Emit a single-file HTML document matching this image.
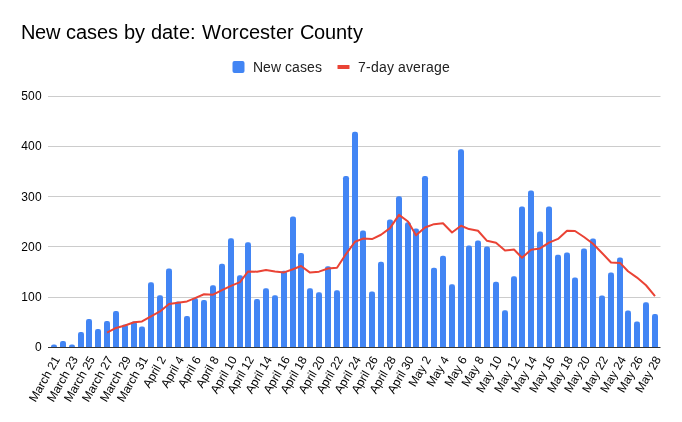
<!DOCTYPE html><html><head><meta charset="utf-8"><style>html,body{margin:0;padding:0;background:#fff;}body{width:682px;height:422px;overflow:hidden;position:relative;font-family:"Liberation Sans",sans-serif;}</style></head><body><svg width="682" height="422" viewBox="0 0 682 422" style="position:absolute;left:0;top:0;will-change:transform;font-family:'Liberation Sans',sans-serif">
<rect width="682" height="422" fill="#fff"/>
<rect x="48" y="297" width="612.5" height="1" fill="#cccccc"/>
<rect x="48" y="246" width="612.5" height="1" fill="#cccccc"/>
<rect x="48" y="196" width="612.5" height="1" fill="#cccccc"/>
<rect x="48" y="146" width="612.5" height="1" fill="#cccccc"/>
<rect x="48" y="96" width="612.5" height="1" fill="#cccccc"/>
<path d="M51 347.50 V346.70 Q51 344.50 53.2 344.50 H54.8 Q57 344.50 57 346.70 V347.50 Z" fill="#4285f4"/>
<path d="M60 347.50 V343.20 Q60 341.00 62.2 341.00 H63.8 Q66 341.00 66 343.20 V347.50 Z" fill="#4285f4"/>
<path d="M69 347.50 V346.70 Q69 344.50 71.2 344.50 H72.8 Q75 344.50 75 346.70 V347.50 Z" fill="#4285f4"/>
<path d="M78 347.50 V334.20 Q78 332.00 80.2 332.00 H81.8 Q84 332.00 84 334.20 V347.50 Z" fill="#4285f4"/>
<path d="M86 347.50 V321.20 Q86 319.00 88.2 319.00 H89.8 Q92 319.00 92 321.20 V347.50 Z" fill="#4285f4"/>
<path d="M95 347.50 V331.20 Q95 329.00 97.2 329.00 H98.8 Q101 329.00 101 331.20 V347.50 Z" fill="#4285f4"/>
<path d="M104 347.50 V323.20 Q104 321.00 106.2 321.00 H107.8 Q110 321.00 110 323.20 V347.50 Z" fill="#4285f4"/>
<path d="M113 347.50 V313.20 Q113 311.00 115.2 311.00 H116.8 Q119 311.00 119 313.20 V347.50 Z" fill="#4285f4"/>
<path d="M122 347.50 V326.70 Q122 324.50 124.2 324.50 H125.8 Q128 324.50 128 326.70 V347.50 Z" fill="#4285f4"/>
<path d="M131 347.50 V323.70 Q131 321.50 133.2 321.50 H134.8 Q137 321.50 137 323.70 V347.50 Z" fill="#4285f4"/>
<path d="M139 347.50 V328.70 Q139 326.50 141.2 326.50 H142.8 Q145 326.50 145 328.70 V347.50 Z" fill="#4285f4"/>
<path d="M148 347.50 V284.40 Q148 282.20 150.2 282.20 H151.8 Q154 282.20 154 284.40 V347.50 Z" fill="#4285f4"/>
<path d="M157 347.50 V297.40 Q157 295.20 159.2 295.20 H160.8 Q163 295.20 163 297.40 V347.50 Z" fill="#4285f4"/>
<path d="M166 347.50 V270.63 Q166 268.43 168.2 268.43 H169.8 Q172 268.43 172 270.63 V347.50 Z" fill="#4285f4"/>
<path d="M175 347.50 V303.70 Q175 301.50 177.2 301.50 H178.8 Q181 301.50 181 303.70 V347.50 Z" fill="#4285f4"/>
<path d="M184 347.50 V318.20 Q184 316.00 186.2 316.00 H187.8 Q190 316.00 190 318.20 V347.50 Z" fill="#4285f4"/>
<path d="M192 347.50 V300.20 Q192 298.00 194.2 298.00 H195.8 Q198 298.00 198 300.20 V347.50 Z" fill="#4285f4"/>
<path d="M201 347.50 V302.20 Q201 300.00 203.2 300.00 H204.8 Q207 300.00 207 302.20 V347.50 Z" fill="#4285f4"/>
<path d="M210 347.50 V287.46 Q210 285.26 212.2 285.26 H213.8 Q216 285.26 216 287.46 V347.50 Z" fill="#4285f4"/>
<path d="M219 347.50 V266.04 Q219 263.84 221.2 263.84 H222.8 Q225 263.84 225 266.04 V347.50 Z" fill="#4285f4"/>
<path d="M228 347.50 V240.45 Q228 238.25 230.2 238.25 H231.8 Q234 238.25 234 240.45 V347.50 Z" fill="#4285f4"/>
<path d="M237 347.50 V277.51 Q237 275.31 239.2 275.31 H240.8 Q243 275.31 243 277.51 V347.50 Z" fill="#4285f4"/>
<path d="M245 347.50 V244.45 Q245 242.25 247.2 242.25 H248.8 Q251 242.25 251 244.45 V347.50 Z" fill="#4285f4"/>
<path d="M254 347.50 V301.20 Q254 299.00 256.2 299.00 H257.8 Q260 299.00 260 301.20 V347.50 Z" fill="#4285f4"/>
<path d="M263 347.50 V290.52 Q263 288.32 265.2 288.32 H266.8 Q269 288.32 269 290.52 V347.50 Z" fill="#4285f4"/>
<path d="M272 347.50 V297.40 Q272 295.20 274.2 295.20 H275.8 Q278 295.20 278 297.40 V347.50 Z" fill="#4285f4"/>
<path d="M281 347.50 V272.93 Q281 270.73 283.2 270.73 H284.8 Q287 270.73 287 272.93 V347.50 Z" fill="#4285f4"/>
<path d="M290 347.50 V218.70 Q290 216.50 292.2 216.50 H293.8 Q296 216.50 296 218.70 V347.50 Z" fill="#4285f4"/>
<path d="M298 347.50 V255.07 Q298 252.88 300.2 252.88 H301.8 Q304 252.88 304 255.07 V347.50 Z" fill="#4285f4"/>
<path d="M307 347.50 V290.52 Q307 288.32 309.2 288.32 H310.8 Q313 288.32 313 290.52 V347.50 Z" fill="#4285f4"/>
<path d="M316 347.50 V294.50 Q316 292.30 318.2 292.30 H319.8 Q322 292.30 322 294.50 V347.50 Z" fill="#4285f4"/>
<path d="M325 347.50 V268.33 Q325 266.13 327.2 266.13 H328.8 Q331 266.13 331 268.33 V347.50 Z" fill="#4285f4"/>
<path d="M334 347.50 V292.46 Q334 290.26 336.2 290.26 H337.8 Q340 290.26 340 292.46 V347.50 Z" fill="#4285f4"/>
<path d="M343 347.50 V178.20 Q343 176.00 345.2 176.00 H346.8 Q349 176.00 349 178.20 V347.50 Z" fill="#4285f4"/>
<path d="M352 347.50 V133.95 Q352 131.75 354.2 131.75 H355.8 Q358 131.75 358 133.95 V347.50 Z" fill="#4285f4"/>
<path d="M360 347.50 V232.70 Q360 230.50 362.2 230.50 H363.8 Q366 230.50 366 232.70 V347.50 Z" fill="#4285f4"/>
<path d="M369 347.50 V293.58 Q369 291.38 371.2 291.38 H372.8 Q375 291.38 375 293.58 V347.50 Z" fill="#4285f4"/>
<path d="M378 347.50 V264.00 Q378 261.80 380.2 261.80 H381.8 Q384 261.80 384 264.00 V347.50 Z" fill="#4285f4"/>
<path d="M387 347.50 V221.70 Q387 219.50 389.2 219.50 H390.8 Q393 219.50 393 221.70 V347.50 Z" fill="#4285f4"/>
<path d="M396 347.50 V198.45 Q396 196.25 398.2 196.25 H399.8 Q402 196.25 402 198.45 V347.50 Z" fill="#4285f4"/>
<path d="M405 347.50 V224.45 Q405 222.25 407.2 222.25 H408.8 Q411 222.25 411 224.45 V347.50 Z" fill="#4285f4"/>
<path d="M413 347.50 V230.70 Q413 228.50 415.2 228.50 H416.8 Q419 228.50 419 230.70 V347.50 Z" fill="#4285f4"/>
<path d="M422 347.50 V178.20 Q422 176.00 424.2 176.00 H425.8 Q428 176.00 428 178.20 V347.50 Z" fill="#4285f4"/>
<path d="M431 347.50 V269.87 Q431 267.67 433.2 267.67 H434.8 Q437 267.67 437 269.87 V347.50 Z" fill="#4285f4"/>
<path d="M440 347.50 V257.88 Q440 255.68 442.2 255.68 H443.8 Q446 255.68 446 257.88 V347.50 Z" fill="#4285f4"/>
<path d="M449 347.50 V286.44 Q449 284.24 451.2 284.24 H452.8 Q455 284.24 455 286.44 V347.50 Z" fill="#4285f4"/>
<path d="M458 347.50 V151.45 Q458 149.25 460.2 149.25 H461.8 Q464 149.25 464 151.45 V347.50 Z" fill="#4285f4"/>
<path d="M466 347.50 V247.70 Q466 245.50 468.2 245.50 H469.8 Q472 245.50 472 247.70 V347.50 Z" fill="#4285f4"/>
<path d="M475 347.50 V242.70 Q475 240.50 477.2 240.50 H478.8 Q481 240.50 481 242.70 V347.50 Z" fill="#4285f4"/>
<path d="M484 347.50 V248.70 Q484 246.50 486.2 246.50 H487.8 Q490 246.50 490 248.70 V347.50 Z" fill="#4285f4"/>
<path d="M493 347.50 V283.89 Q493 281.69 495.2 281.69 H496.8 Q499 281.69 499 283.89 V347.50 Z" fill="#4285f4"/>
<path d="M502 347.50 V312.45 Q502 310.25 504.2 310.25 H505.8 Q508 310.25 508 312.45 V347.50 Z" fill="#4285f4"/>
<path d="M511 347.50 V278.53 Q511 276.33 513.2 276.33 H514.8 Q517 276.33 517 278.53 V347.50 Z" fill="#4285f4"/>
<path d="M519 347.50 V208.70 Q519 206.50 521.2 206.50 H522.8 Q525 206.50 525 208.70 V347.50 Z" fill="#4285f4"/>
<path d="M528 347.50 V192.70 Q528 190.50 530.2 190.50 H531.8 Q534 190.50 534 192.70 V347.50 Z" fill="#4285f4"/>
<path d="M537 347.50 V233.70 Q537 231.50 539.2 231.50 H540.8 Q543 231.50 543 233.70 V347.50 Z" fill="#4285f4"/>
<path d="M546 347.50 V208.70 Q546 206.50 548.2 206.50 H549.8 Q552 206.50 552 208.70 V347.50 Z" fill="#4285f4"/>
<path d="M555 347.50 V256.86 Q555 254.66 557.2 254.66 H558.8 Q561 254.66 561 256.86 V347.50 Z" fill="#4285f4"/>
<path d="M564 347.50 V254.67 Q564 252.47 566.2 252.47 H567.8 Q570 252.47 570 254.67 V347.50 Z" fill="#4285f4"/>
<path d="M572 347.50 V279.81 Q572 277.61 574.2 277.61 H575.8 Q578 277.61 578 279.81 V347.50 Z" fill="#4285f4"/>
<path d="M581 347.50 V250.74 Q581 248.54 583.2 248.54 H584.8 Q587 248.54 587 250.74 V347.50 Z" fill="#4285f4"/>
<path d="M590 347.50 V240.70 Q590 238.50 592.2 238.50 H593.8 Q596 238.50 596 240.70 V347.50 Z" fill="#4285f4"/>
<path d="M599 347.50 V297.66 Q599 295.46 601.2 295.46 H602.8 Q605 295.46 605 297.66 V347.50 Z" fill="#4285f4"/>
<path d="M608 347.50 V274.71 Q608 272.51 610.2 272.51 H611.8 Q614 272.51 614 274.71 V347.50 Z" fill="#4285f4"/>
<path d="M617 347.50 V259.66 Q617 257.46 619.2 257.46 H620.8 Q623 257.46 623 259.66 V347.50 Z" fill="#4285f4"/>
<path d="M625 347.50 V312.70 Q625 310.50 627.2 310.50 H628.8 Q631 310.50 631 312.70 V347.50 Z" fill="#4285f4"/>
<path d="M634 347.50 V323.70 Q634 321.50 636.2 321.50 H637.8 Q640 321.50 640 323.70 V347.50 Z" fill="#4285f4"/>
<path d="M643 347.50 V304.45 Q643 302.25 645.2 302.25 H646.8 Q649 302.25 649 304.45 V347.50 Z" fill="#4285f4"/>
<path d="M652 347.50 V316.20 Q652 314.00 654.2 314.00 H655.8 Q658 314.00 658 316.20 V347.50 Z" fill="#4285f4"/>
<rect x="48" y="347" width="612.5" height="1" fill="#333333"/>
<polyline points="107,332.70 116,327.91 125,325.56 134,322.27 142,321.49 151,316.27 160,311.45 169,304.02 178,302.66 187,301.45 195,298.09 204,294.25 213,294.69 222,290.21 231,285.87 240,282.12 248,271.52 257,271.66 266,269.99 275,271.41 284,272.39 293,269.22 301,266.02 310,272.61 319,271.65 328,268.48 337,267.77 346,254.04 355,241.78 363,238.60 372,239.03 381,234.76 390,228.15 399,214.84 408,221.45 416,235.27 425,227.49 434,224.16 443,223.31 452,232.45 461,225.74 469,229.06 478,230.77 487,240.84 496,242.81 505,250.57 514,249.44 522,257.78 531,249.77 540,248.46 549,242.70 558,238.91 567,230.79 575,230.96 584,236.96 593,243.82 602,252.95 611,262.50 620,262.90 628,271.23 637,277.56 646,285.25 655,296.11" fill="none" stroke="#ea4335" stroke-width="2" stroke-linejoin="round" stroke-linecap="butt"/>
<text x="41.75" y="350.90" text-anchor="end" letter-spacing="0.15" font-size="12" fill="#000">0</text>
<text x="41.75" y="300.90" text-anchor="end" letter-spacing="0.15" font-size="12" fill="#000">100</text>
<text x="41.75" y="250.90" text-anchor="end" letter-spacing="0.15" font-size="12" fill="#000">200</text>
<text x="41.75" y="200.90" text-anchor="end" letter-spacing="0.15" font-size="12" fill="#000">300</text>
<text x="41.75" y="149.90" text-anchor="end" letter-spacing="0.15" font-size="12" fill="#000">400</text>
<text x="41.75" y="99.90" text-anchor="end" letter-spacing="0.15" font-size="12" fill="#000">500</text>
<text transform="translate(60.4,359.3) rotate(-60)" text-anchor="end" font-size="12" fill="#000">March 21</text>
<text transform="translate(78.4,359.3) rotate(-60)" text-anchor="end" font-size="12" fill="#000">March 23</text>
<text transform="translate(95.4,359.3) rotate(-60)" text-anchor="end" font-size="12" fill="#000">March 25</text>
<text transform="translate(113.4,359.3) rotate(-60)" text-anchor="end" font-size="12" fill="#000">March 27</text>
<text transform="translate(131.4,359.3) rotate(-60)" text-anchor="end" font-size="12" fill="#000">March 29</text>
<text transform="translate(148.4,359.3) rotate(-60)" text-anchor="end" font-size="12" fill="#000">March 31</text>
<text transform="translate(166.4,359.3) rotate(-60)" text-anchor="end" font-size="12" fill="#000">April 2</text>
<text transform="translate(184.4,359.3) rotate(-60)" text-anchor="end" font-size="12" fill="#000">April 4</text>
<text transform="translate(201.4,359.3) rotate(-60)" text-anchor="end" font-size="12" fill="#000">April 6</text>
<text transform="translate(219.4,359.3) rotate(-60)" text-anchor="end" font-size="12" fill="#000">April 8</text>
<text transform="translate(237.4,359.3) rotate(-60)" text-anchor="end" font-size="12" fill="#000">April 10</text>
<text transform="translate(254.4,359.3) rotate(-60)" text-anchor="end" font-size="12" fill="#000">April 12</text>
<text transform="translate(272.4,359.3) rotate(-60)" text-anchor="end" font-size="12" fill="#000">April 14</text>
<text transform="translate(290.4,359.3) rotate(-60)" text-anchor="end" font-size="12" fill="#000">April 16</text>
<text transform="translate(307.4,359.3) rotate(-60)" text-anchor="end" font-size="12" fill="#000">April 18</text>
<text transform="translate(325.4,359.3) rotate(-60)" text-anchor="end" font-size="12" fill="#000">April 20</text>
<text transform="translate(343.4,359.3) rotate(-60)" text-anchor="end" font-size="12" fill="#000">April 22</text>
<text transform="translate(361.4,359.3) rotate(-60)" text-anchor="end" font-size="12" fill="#000">April 24</text>
<text transform="translate(378.4,359.3) rotate(-60)" text-anchor="end" font-size="12" fill="#000">April 26</text>
<text transform="translate(396.4,359.3) rotate(-60)" text-anchor="end" font-size="12" fill="#000">April 28</text>
<text transform="translate(414.4,359.3) rotate(-60)" text-anchor="end" font-size="12" fill="#000">April 30</text>
<text transform="translate(431.4,359.3) rotate(-60)" text-anchor="end" font-size="12" fill="#000">May 2</text>
<text transform="translate(449.4,359.3) rotate(-60)" text-anchor="end" font-size="12" fill="#000">May 4</text>
<text transform="translate(467.4,359.3) rotate(-60)" text-anchor="end" font-size="12" fill="#000">May 6</text>
<text transform="translate(484.4,359.3) rotate(-60)" text-anchor="end" font-size="12" fill="#000">May 8</text>
<text transform="translate(502.4,359.3) rotate(-60)" text-anchor="end" font-size="12" fill="#000">May 10</text>
<text transform="translate(520.4,359.3) rotate(-60)" text-anchor="end" font-size="12" fill="#000">May 12</text>
<text transform="translate(537.4,359.3) rotate(-60)" text-anchor="end" font-size="12" fill="#000">May 14</text>
<text transform="translate(555.4,359.3) rotate(-60)" text-anchor="end" font-size="12" fill="#000">May 16</text>
<text transform="translate(573.4,359.3) rotate(-60)" text-anchor="end" font-size="12" fill="#000">May 18</text>
<text transform="translate(590.4,359.3) rotate(-60)" text-anchor="end" font-size="12" fill="#000">May 20</text>
<text transform="translate(608.4,359.3) rotate(-60)" text-anchor="end" font-size="12" fill="#000">May 22</text>
<text transform="translate(626.4,359.3) rotate(-60)" text-anchor="end" font-size="12" fill="#000">May 24</text>
<text transform="translate(643.4,359.3) rotate(-60)" text-anchor="end" font-size="12" fill="#000">May 26</text>
<text transform="translate(661.4,359.3) rotate(-60)" text-anchor="end" font-size="12" fill="#000">May 28</text>
<text x="21.1 35.1 46.1 60.1 66.1 76.1 87.1 97.1 108.1 118.1 124.1 135.1 145.1 151.1 162.1 173.1 179.1 190.1 196.1 202.1 221.1 232.1 239.1 249.1 260.1 270.1 276.1 287.1 294.1 300.1 314.1 325.1 336.1 347.1 353.1" y="39.4" font-size="20" fill="#000">New cases by date: Worcester County</text>
<rect x="232.5" y="61" width="12" height="12" rx="2" fill="#4285f4"/>
<text x="253 263 271 281 285 292 300 307 315" y="71.7" font-size="14" fill="#222">New cases</text>
<rect x="337.5" y="65" width="12" height="4" rx="0.5" fill="#ea4335"/>
<text x="358 366 371 379 387 394 398 406 413 421 426 434 442" y="71.7" font-size="14" fill="#222">7-day average</text>
</svg></body></html>
